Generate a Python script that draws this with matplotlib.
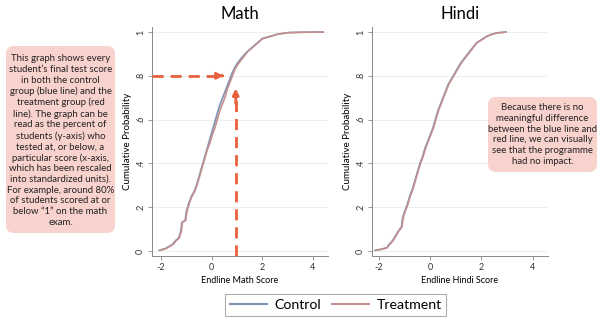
import matplotlib
matplotlib.use("Agg")
import matplotlib.pyplot as plt
from matplotlib.patches import FancyBboxPatch
from matplotlib.lines import Line2D

plt.rcParams['font.family'] = ['Lato', 'DejaVu Sans']

# Math ECDF
math_x_ctrl = [-2.07, -1.85, -1.7, -1.55, -1.45, -1.3, -1.22, -1.18, -1.05, -1.0, -0.9, -0.8,
               -0.7, -0.6, -0.5, -0.4, -0.3, -0.2, -0.1, 0.0, 0.1, 0.2, 0.3, 0.4, 0.5, 0.6,
               0.7, 0.8, 0.9, 1.0, 1.2, 1.4, 1.6, 1.8, 2.0, 2.3, 2.6, 3.0, 3.5, 4.4]
math_y_ctrl = [0.003, 0.01, 0.02, 0.03, 0.045, 0.06, 0.09, 0.13, 0.14, 0.18, 0.22, 0.25,
               0.27, 0.30, 0.34, 0.38, 0.42, 0.46, 0.50, 0.54, 0.58, 0.62, 0.66, 0.69, 0.72, 0.75,
               0.78, 0.81, 0.835, 0.855, 0.885, 0.91, 0.93, 0.95, 0.97, 0.98, 0.99, 0.997, 0.999, 1.0]
math_x_trt = [-2.05, -1.82, -1.68, -1.52, -1.42, -1.28, -1.2, -1.16, -1.03, -0.98, -0.88, -0.78,
              -0.68, -0.58, -0.48, -0.38, -0.28, -0.18, -0.08, 0.02, 0.12, 0.22, 0.32, 0.42, 0.52, 0.62,
              0.72, 0.82, 0.92, 1.02, 1.22, 1.42, 1.62, 1.82, 2.02, 2.32, 2.62, 3.02, 3.6, 4.4]
math_y_trt = [0.003, 0.01, 0.02, 0.03, 0.045, 0.06, 0.09, 0.13, 0.14, 0.18, 0.22, 0.25,
              0.27, 0.30, 0.34, 0.38, 0.42, 0.46, 0.49, 0.53, 0.56, 0.60, 0.64, 0.67, 0.70, 0.74,
              0.77, 0.80, 0.83, 0.85, 0.88, 0.91, 0.93, 0.95, 0.97, 0.98, 0.99, 0.997, 0.999, 1.0]

# Hindi ECDF
hindi_x_ctrl = [-2.15, -1.9, -1.7, -1.6, -1.45, -1.35, -1.25, -1.12, -1.08, -1.0, -0.9, -0.8,
                -0.7, -0.6, -0.5, -0.4, -0.3, -0.2, -0.1, 0.0, 0.1, 0.2, 0.3, 0.4, 0.5, 0.6,
                0.7, 0.8, 0.9, 1.0, 1.2, 1.4, 1.6, 1.8, 2.0, 2.2, 2.4, 2.6, 2.96]
hindi_y_ctrl = [0.003, 0.008, 0.015, 0.03, 0.05, 0.07, 0.09, 0.11, 0.15, 0.18, 0.21, 0.25,
                0.28, 0.32, 0.36, 0.40, 0.43, 0.47, 0.50, 0.53, 0.56, 0.60, 0.64, 0.67, 0.70, 0.73,
                0.76, 0.78, 0.80, 0.82, 0.86, 0.89, 0.92, 0.95, 0.965, 0.98, 0.99, 0.996, 1.0]
hindi_x_trt = [-2.12, -1.88, -1.68, -1.58, -1.43, -1.33, -1.23, -1.1, -1.06, -0.98, -0.88, -0.78,
               -0.68, -0.58, -0.48, -0.38, -0.28, -0.18, -0.08, 0.02, 0.12, 0.22, 0.32, 0.42, 0.52, 0.62,
               0.72, 0.82, 0.92, 1.02, 1.22, 1.42, 1.62, 1.82, 2.02, 2.22, 2.42, 2.62, 2.96]
hindi_y_trt = hindi_y_ctrl

yticks = [0, 0.2, 0.4, 0.6, 0.8, 1.0]
ytick_labels = ['0', '.2', '.4', '.6', '.8', '1']
xticks = [-2, 0, 2, 4]

blue = '#7a94b3'
red = '#c48f8e'
orange = '#e8603c'
grey = '#888888'

fig = plt.figure(figsize=(6.02, 3.26), dpi=100)
fig.patch.set_facecolor('white')

ax1 = fig.add_axes([0.2525, 0.2147, 0.2924, 0.7025])
ax2 = fig.add_axes([0.618, 0.2147, 0.2924, 0.7025])

panels = [(ax1, 'Math', 'Endline Math Score', math_x_ctrl, math_y_ctrl, math_x_trt, math_y_trt, -2.36),
          (ax2, 'Hindi', 'Endline Hindi Score', hindi_x_ctrl, hindi_y_ctrl, hindi_x_trt, hindi_y_trt, -2.27)]

for ax, title, xlab, xc, yc, xt, yt, xmin in panels:
    for y in yticks:
        ax.axhline(y, color='#eeeeee', lw=0.7, zorder=0)
    ax.plot(xc, yc, color=blue, lw=1.2, zorder=3)
    ax.plot(xt, yt, color=red, lw=1.2, zorder=3)
    ax.set_xlim(xmin, 4.6)
    ax.set_ylim(-0.023, 1.023)
    ax.set_xticks(xticks)
    ax.set_xticklabels([str(v) for v in xticks])
    ax.set_yticks(yticks)
    ax.set_yticklabels(ytick_labels, rotation=90, va='center')
    ax.tick_params(labelsize=6.5, length=3, width=0.6, color=grey, labelcolor='#333333', pad=2)
    for s in ['top', 'right']:
        ax.spines[s].set_visible(False)
    for s in ['left', 'bottom']:
        ax.spines[s].set_color(grey)
        ax.spines[s].set_linewidth(0.7)
    ax.set_title(title, fontsize=12, pad=6)
    ax.set_xlabel(xlab, fontsize=6.5, labelpad=3)
    ax.set_ylabel('Cumulative Probability', fontsize=7, labelpad=3)

# dashed arrows on the math panel
ax1.plot([-2.36, 0.45], [0.8, 0.8], color=orange, lw=2, ls=(0, (4, 2.5)), zorder=4)
ax1.annotate('', xy=(0.58, 0.8), xytext=(0.3, 0.8),
             arrowprops=dict(arrowstyle='-|>', color=orange, lw=2, mutation_scale=9), zorder=4)
ax1.plot([0.95, 0.95], [-0.023, 0.7], color=orange, lw=2, ls=(0, (4, 2.5)), zorder=4)
ax1.annotate('', xy=(0.95, 0.755), xytext=(0.95, 0.66),
             arrowprops=dict(arrowstyle='-|>', color=orange, lw=2, mutation_scale=9), zorder=4)

# annotation boxes
box_color = '#f8d2cd'
fig.patches.append(FancyBboxPatch((0.06, 0.93), 1.09, 1.87, boxstyle='round,pad=0,rounding_size=0.08',
                                  transform=fig.dpi_scale_trans, facecolor=box_color, edgecolor='none'))
fig.patches.append(FancyBboxPatch((4.88, 1.54), 1.09, 0.75, boxstyle='round,pad=0,rounding_size=0.08',
                                  transform=fig.dpi_scale_trans, facecolor=box_color, edgecolor='none'))

left_text = ("This graph shows every\nstudent\u2019s final test score\nin both the control\n"
             "group (blue line) and the\ntreatment group (red\nline). The graph can be\n"
             "read as the percent of\nstudents (y-axis) who\ntested at, or below, a\n"
             "particular score (x-axis,\nwhich has been rescaled\ninto standardized units).\n"
             "For example, around 80%\nof students scored at or\nbelow \u201c1\u201d on the math\nexam.")
right_text = ("Because there is no\nmeaningful difference\nbetween the blue line and\n"
              "red line, we can visually\nsee that the programme\nhad no impact.")
fig.text(0.605, 1.855, left_text, transform=fig.dpi_scale_trans, ha='center', va='center',
         fontsize=6.9, linespacing=1.24, color='#222222')
fig.text(5.425, 1.915, right_text, transform=fig.dpi_scale_trans, ha='center', va='center',
         fontsize=6.9, linespacing=1.24, color='#222222')

handles = [Line2D([], [], color=blue, lw=1.5), Line2D([], [], color=red, lw=1.5)]
leg = fig.legend(handles, ['Control', 'Treatment'], loc='center', bbox_to_anchor=(0.558, 0.064),
                 ncol=2, fontsize=10.2, frameon=True, fancybox=False, handlelength=2.6,
                 columnspacing=0.8, handletextpad=0.5, borderpad=0.35)
leg.get_frame().set_edgecolor('#999999')
leg.get_frame().set_linewidth(0.8)

fig.savefig('out.png', dpi=100)
